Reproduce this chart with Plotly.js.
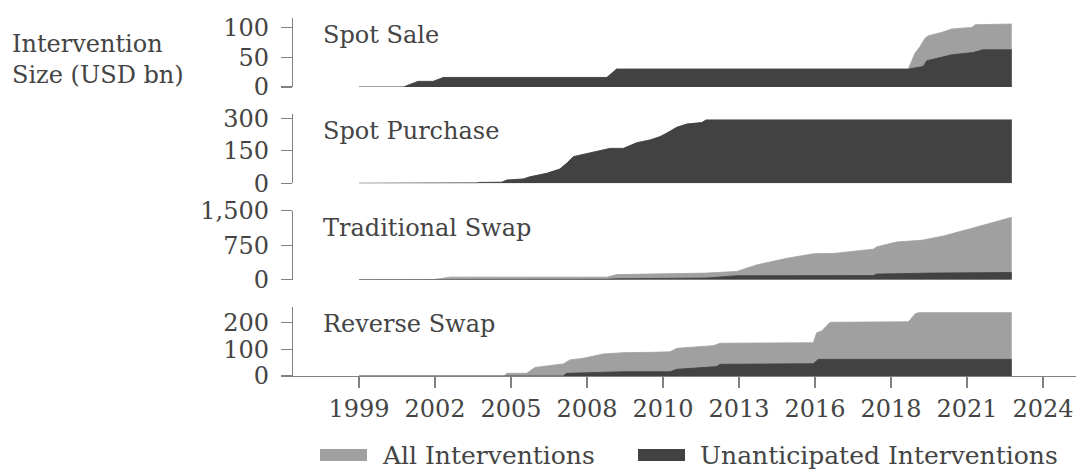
<!DOCTYPE html>
<html>
<head>
<meta charset="utf-8">
<script src="https://cdn.plot.ly/plotly-3.0.1.min.js"></script>
<style>html,body{margin:0;padding:0;background:#fff;}#chart{width:1077px;height:470px;}</style>
</head>
<body>
<div id="chart"></div>
<script>
// ---- Data (decimal years, USD bn, cumulative) ----
const xTickVals = [1999.9, 2002.62, 2005.34, 2008.06, 2010.78, 2013.5, 2016.22, 2018.94, 2021.66, 2024.38];
const xTickText = ['1999','2002','2005','2008','2010','2013','2016','2018','2021','2024'];

const spotSaleAllX = [1999.90, 2001.49, 2002.01, 2002.55, 2002.92, 2008.77, 2009.12, 2019.56, 2019.80, 2019.98, 2020.16, 2020.28, 2020.75, 2021.11, 2021.83, 2021.95, 2023.26];
const spotSaleAllY = [0, 0, 9.4, 9.4, 16, 16, 30, 30, 57, 68, 82, 86, 91.6, 97.3, 100, 104.5, 105.7];
const spotSaleUnX = [1999.90, 2001.49, 2002.01, 2002.55, 2002.92, 2008.77, 2009.12, 2019.56, 2020.09, 2020.22, 2020.75, 2021.11, 2021.89, 2022.23, 2023.26];
const spotSaleUnY = [0, 0, 9.4, 9.4, 16, 16, 30, 30, 34.6, 44, 50, 54, 58, 62.6, 62.6];

const spotPurchaseAllX = [1999.90, 2000.94, 2001.1, 2004.11, 2004.2, 2005.01, 2005.19, 2005.78, 2006.02, 2006.62, 2007.09, 2007.33, 2007.57, 2007.93, 2008.41, 2008.88, 2009.36, 2009.84, 2010.32, 2010.67, 2010.91, 2011.27, 2011.63, 2012.17, 2012.32, 2023.26];
const spotPurchaseAllY = [0, 0, 2, 2, 4, 5, 15, 20, 30, 46, 66, 92, 123, 134, 149, 161, 161, 187, 200, 215, 231, 258, 273, 280, 292, 292];
const spotPurchaseUnX = [1999.90, 2000.94, 2001.1, 2004.11, 2004.2, 2005.01, 2005.19, 2005.78, 2006.02, 2006.62, 2007.09, 2007.33, 2007.57, 2007.93, 2008.41, 2008.88, 2009.36, 2009.84, 2010.32, 2010.67, 2010.91, 2011.27, 2011.63, 2012.17, 2012.32, 2023.26];
const spotPurchaseUnY = [0, 0, 2, 2, 4, 5, 15, 20, 30, 46, 66, 92, 123, 134, 149, 161, 161, 187, 200, 215, 231, 258, 273, 280, 292, 292];

const tradSwapAllX = [1999.90, 2002.55, 2003.16, 2008.77, 2009.12, 2012.34, 2013.42, 2014.13, 2015.21, 2016.16, 2016.88, 2018.31, 2018.43, 2019.14, 2020.04, 2020.81, 2021.77, 2023.26];
const tradSwapAllY = [0, 0, 55, 55, 110, 143, 179, 321, 464, 564, 571, 664, 714, 821, 857, 950, 1107, 1357];
const tradSwapUnX = [1999.90, 2002.55, 2003.16, 2008.77, 2009.12, 2012.34, 2013.42, 2018.31, 2018.43, 2020.34, 2023.26];
const tradSwapUnY = [0, 0, 8, 8, 20, 36, 86, 90, 121, 143, 157];

const revSwapAllX = [1999.90, 2005.10, 2005.19, 2005.90, 2006.20, 2007.21, 2007.45, 2007.93, 2008.64, 2009.36, 2010.32, 2011.03, 2011.27, 2012.58, 2012.82, 2016.16, 2016.28, 2016.46, 2016.76, 2019.56, 2019.80, 2019.92, 2023.26];
const revSwapAllY = [0, 0, 10, 10, 32, 45, 60, 66, 82, 87, 88, 90, 103, 113, 122, 124, 161, 168, 200, 202, 231, 236, 236];
const revSwapUnX = [1999.90, 2007.21, 2007.33, 2009.36, 2011.03, 2011.27, 2012.70, 2012.82, 2016.16, 2016.34, 2023.26];
const revSwapUnY = [0, 0, 10, 16, 16, 25, 35, 43.5, 46, 62, 62];

const panelNames = ['Spot Sale', 'Spot Purchase', 'Traditional Swap', 'Reverse Swap'];
const seriesNames = ['All Interventions', 'Unanticipated Interventions'];

// ---- Styling ----
const FONT = 'DejaVu Serif';
const TXT = '#444444';
const AXC = '#808080';
const LIGHT = '#a0a0a0';
const DARK = '#424242';

function area(x, y, yaxis, color, name) {
  return {x: x, y: y, xaxis: 'x', yaxis: yaxis, type: 'scatter', mode: 'lines',
    fill: 'tozeroy', fillcolor: color, line: {color: color, width: 0.8},
    name: name, showlegend: false, hoverinfo: 'skip'};
}

const traces = [
  area(spotSaleAllX, spotSaleAllY, 'y4', LIGHT, seriesNames[0]),
  area(spotSaleUnX, spotSaleUnY, 'y4', DARK, seriesNames[1]),
  area(spotPurchaseAllX, spotPurchaseAllY, 'y3', LIGHT, seriesNames[0]),
  area(spotPurchaseUnX, spotPurchaseUnY, 'y3', DARK, seriesNames[1]),
  area(tradSwapAllX, tradSwapAllY, 'y2', LIGHT, seriesNames[0]),
  area(tradSwapUnX, tradSwapUnY, 'y2', DARK, seriesNames[1]),
  area(revSwapAllX, revSwapAllY, 'y', LIGHT, seriesNames[0]),
  area(revSwapUnX, revSwapUnY, 'y', DARK, seriesNames[1])
];

function yax(domain, range, tv, tt) {
  return {domain: domain, range: range, anchor: 'x', tickvals: tv, ticktext: tt,
    showline: true, linecolor: AXC, linewidth: 1.2, ticks: 'outside', ticklen: 11,
    tickcolor: AXC, tickwidth: 1.2, showgrid: false, zeroline: false, fixedrange: true,
    ticklabelstandoff: 7, tickfont: {family: FONT, size: 24, color: TXT}};
}

const ph = 0.19274, gap = 0.07635;
const layout = {
  width: 1077, height: 470,
  margin: {l: 293, r: 1, t: 18, b: 94},
  paper_bgcolor: '#fff', plot_bgcolor: '#fff',
  showlegend: false,
  xaxis: {domain: [0, 1], range: [1997.538, 2025.56], anchor: 'y',
    tickvals: xTickVals, ticktext: xTickText,
    showline: true, linecolor: AXC, linewidth: 1.2, ticks: 'outside', ticklen: 11,
    tickcolor: AXC, tickwidth: 1.2, showgrid: false, zeroline: false,
    tickfont: {family: FONT, size: 24, color: TXT}},
  yaxis: yax([0, ph], [0, 257], [0, 100, 200], ['0', '100', '200']),
  yaxis2: yax([ph + gap, 2 * ph + gap], [0, 1502], [0, 750, 1500], ['0', '750', '1,500']),
  yaxis3: yax([2 * ph + 2 * gap, 3 * ph + 2 * gap], [0, 318], [0, 150, 300], ['0', '150', '300']),
  yaxis4: yax([3 * ph + 3 * gap, 1], [0, 115.8], [0, 50, 100], ['0', '50', '100']),
  annotations: [],
  shapes: []
};

const panelAxes = ['y4', 'y3', 'y2', 'y'];
panelNames.forEach(function (n, i) {
  layout.annotations.push({text: n, xref: 'paper', yref: panelAxes[i] + ' domain',
    x: 0.0358, y: 0.754, xanchor: 'left', yanchor: 'middle', showarrow: false,
    font: {family: FONT, size: 24, color: TXT}});
});
layout.annotations.push({text: 'Intervention<br>Size (USD bn)', xref: 'paper', yref: 'paper',
  x: -0.3614, y: 0.885, xanchor: 'left', yanchor: 'middle', align: 'left', showarrow: false,
  font: {family: FONT, size: 24, color: TXT}});

// custom legend
const legItems = [{x0: 320, tx: 380, color: LIGHT, name: seriesNames[0]}, {x0: 638, tx: 698, color: DARK, name: seriesNames[1]}];
function px2paperX(p) { return (p - 293) / 783; }
function py2paperY(p) { return (376 - p) / 358; }
legItems.forEach(function (it) {
  layout.shapes.push({type: 'rect', xref: 'paper', yref: 'paper',
    x0: px2paperX(it.x0), x1: px2paperX(it.x0 + 47), y0: py2paperY(461), y1: py2paperY(449),
    fillcolor: it.color, line: {width: 0}});
  layout.annotations.push({text: it.name, xref: 'paper', yref: 'paper',
    x: px2paperX(it.tx), y: py2paperY(455), xanchor: 'left', yanchor: 'middle', showarrow: false,
    font: {family: FONT, size: 25, color: TXT}});
});

Plotly.newPlot('chart', traces, layout, {staticPlot: true, displayModeBar: false});
</script>
</body>
</html>
